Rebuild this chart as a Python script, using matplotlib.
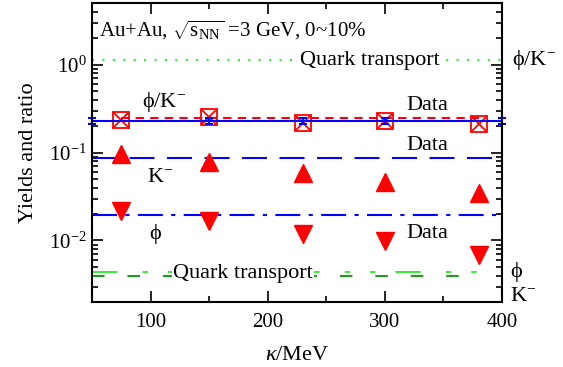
import numpy as np
import matplotlib.pyplot as plt
from matplotlib.ticker import LogLocator, MultipleLocator, NullFormatter

plt.rcParams['font.family'] = ['Liberation Serif', 'DejaVu Serif']
plt.rcParams['mathtext.fontset'] = 'custom'
plt.rcParams['mathtext.rm'] = 'Liberation Serif'
plt.rcParams['mathtext.it'] = 'Liberation Serif:italic'

# model points vs kappa
kappa = np.array([75, 150, 230, 300, 380])
ratio_model = [0.237, 0.250, 0.219, 0.231, 0.213]
kminus_model = [0.095, 0.077, 0.059, 0.046, 0.035]
phi_model = [0.0215, 0.0165, 0.0120, 0.0098, 0.0069]

# measured values (horizontal lines)
ratio_data = 0.231
ratio_err = 0.018
ratio_model_avg = 0.247
kminus_data = 0.087
phi_data = 0.0197
err_x = [50, 150, 230, 300, 400]

# quark transport values
qt_ratio = 1.12
qt_phi = 0.0044
qt_kminus = 0.00393
qt_end = 380

fig = plt.figure(figsize=(5.63, 3.67), dpi=100)
ax = fig.add_axes([92/563, 1-302/367, 410/563, 299/367])
ax.set_yscale('log')
ax.set_xlim(50, 400)
ax.set_ylim(0.002, 5)

red = '#ff0000'
blue = '#0000ff'

# quark transport lines
ax.plot([50, 400], [qt_ratio]*2, color='#33ee33', ls=(0, (1, 4)), lw=1.5)
ax.plot([50, qt_end], [qt_phi]*2, color='#22ee22', lw=1.3,
        ls=(0, (14, 14, 3, 11, 3, 11)))
ax.plot([50, qt_end], [qt_kminus]*2, color='#229922', lw=1.5, ls=(0, (6, 11)))

# data lines
ax.plot([50, 400], [kminus_data]*2, color=blue, lw=1.5, ls=(0, (12, 6)))
ax.plot([50, 400], [phi_data]*2, color=blue, lw=1.5, ls=(0, (12, 4, 2, 4)))
ax.plot([kappa[0], kappa[-1]], [ratio_model_avg]*2, color=red, lw=1.5,
        ls=(0, (4, 3)))

# model points
ax.plot(kappa, kminus_model, '^', color=red, ms=13, mec=red)
ax.plot(kappa, phi_model, 'v', color=red, ms=13, mec=red)
ax.plot(kappa, ratio_model, 's', mfc='none', mec=red, ms=12, mew=1.3)
ax.plot(kappa, ratio_model, 'x', color=red, ms=12, mew=1.3)

# measured ratio with error bars
ax.plot([50, 400], [ratio_data]*2, color=blue, lw=1.5)
ax.errorbar(err_x, [ratio_data]*len(err_x), yerr=ratio_err, fmt='none',
            ecolor=blue, elinewidth=1.5, capsize=3, capthick=1.5, clip_on=False)

# labels
fs = 16
phi = '\u03d5'
white = dict(facecolor='white', edgecolor='none', pad=1)
ax.text(56, 2.08, r'Au+Au, $\sqrt{\mathrm{s}_{\mathrm{NN}}}$ =3 GeV, 0~10%', fontsize=15,
        va='baseline')
ax.text(287, qt_ratio, 'Quark transport', fontsize=fs, ha='center', va='center',
        bbox=white)
ax.text(179, 0.00371, 'Quark transport', fontsize=fs, ha='center', va='baseline',
        bbox=white)
ax.text(93, 0.33, phi + '/K$^{-}$', fontsize=fs, va='baseline')
ax.text(336, 0.308, 'Data', fontsize=fs, ha='center', va='baseline')
ax.text(336, 0.108, 'Data', fontsize=fs, ha='center', va='baseline')
ax.text(336, 0.0108, 'Data', fontsize=fs, ha='center', va='baseline')
ax.text(97, 0.0457, 'K$^{-}$', fontsize=fs, va='baseline')
ax.text(99, 0.0103, phi, fontsize=fs, va='baseline')

trans = ax.get_yaxis_transform()
ax.text(1.025, qt_ratio, phi + '/K$^{-}$', fontsize=fs, va='center', transform=trans)
ax.text(1.02, 0.0038, phi, fontsize=fs, va='baseline', transform=trans)
ax.text(1.02, 0.00205, 'K$^{-}$', fontsize=fs, va='baseline', transform=trans)

ax.set_xlabel(r'$\kappa$/MeV', fontsize=16, labelpad=10)
ax.set_ylabel('Yields and ratio', fontsize=16, labelpad=8)

ax.xaxis.set_major_locator(MultipleLocator(100))
ax.xaxis.set_minor_locator(MultipleLocator(50))
ax.yaxis.set_major_locator(LogLocator(base=10))
ax.yaxis.set_minor_locator(LogLocator(base=10, subs=np.arange(2, 10)))
ax.yaxis.set_minor_formatter(NullFormatter())
ax.tick_params(which='both', direction='in', top=True, right=True, labelsize=15,
               width=1.2)
ax.tick_params(which='major', length=8)
ax.tick_params(which='minor', length=4)
ax.tick_params(axis='x', pad=8)
for s in ax.spines.values():
    s.set_linewidth(1.5)

fig.savefig('out.png', dpi=100)
